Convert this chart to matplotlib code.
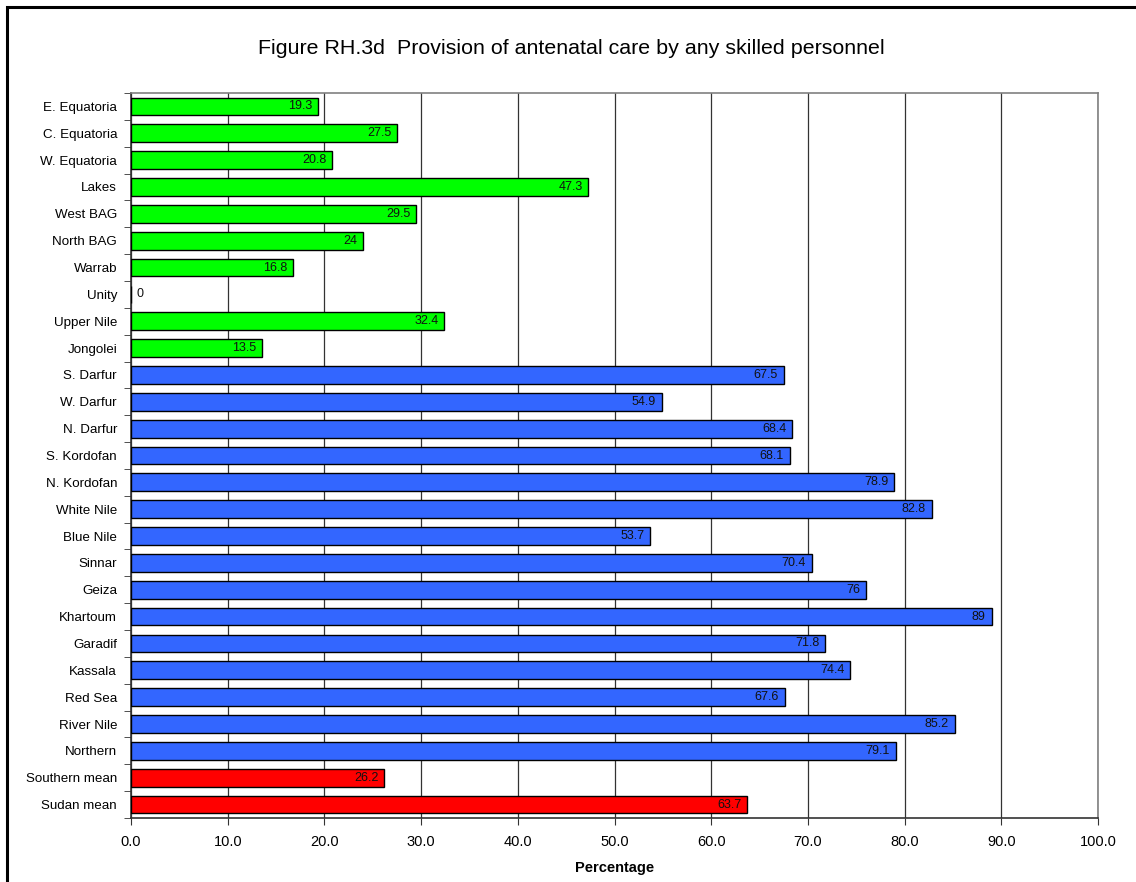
import matplotlib
matplotlib.use("Agg")
import matplotlib.pyplot as plt
from matplotlib.patches import Rectangle

categories = ["E. Equatoria", "C. Equatoria", "W. Equatoria", "Lakes", "West BAG",
              "North BAG", "Warrab", "Unity", "Upper Nile", "Jongolei",
              "S. Darfur", "W. Darfur", "N. Darfur", "S. Kordofan", "N. Kordofan",
              "White Nile", "Blue Nile", "Sinnar", "Geiza", "Khartoum", "Garadif",
              "Kassala", "Red Sea", "River Nile", "Northern", "Southern mean", "Sudan mean"]
values = [19.3, 27.5, 20.8, 47.3, 29.5, 24, 16.8, 0, 32.4, 13.5,
          67.5, 54.9, 68.4, 68.1, 78.9, 82.8, 53.7, 70.4, 76, 89, 71.8,
          74.4, 67.6, 85.2, 79.1, 26.2, 63.7]
labels = ["19.3", "27.5", "20.8", "47.3", "29.5", "24", "16.8", "0", "32.4", "13.5",
          "67.5", "54.9", "68.4", "68.1", "78.9", "82.8", "53.7", "70.4", "76", "89", "71.8",
          "74.4", "67.6", "85.2", "79.1", "26.2", "63.7"]
groups = ["south"] * 10 + ["north"] * 15 + ["mean"] * 2
group_colors = {"south": "#00FF00", "north": "#3366FF", "mean": "#FF0000"}
xticks = [0, 10, 20, 30, 40, 50, 60, 70, 80, 90, 100]

plt.rcParams['font.family'] = ['Liberation Sans', 'DejaVu Sans']

W, H = 1136, 882
fig = plt.figure(figsize=(W / 100, H / 100), dpi=100)
ax = fig.add_axes([131 / W, 1 - 818 / H, (1098 - 131) / W, (818 - 93) / H])

n = len(categories)
ypos = list(range(n))
colors = [group_colors[g] for g in groups]
ax.barh(ypos, values, height=0.66, color=colors, edgecolor="black", linewidth=1.0, zorder=3)

for y, v, lab in zip(ypos, values, labels):
    if v > 0:
        ax.text(v - 0.6, y, lab, ha="right", va="center", fontsize=9, color="#111111", zorder=4)
    else:
        ax.text(v + 0.6, y, lab, ha="left", va="center", fontsize=9, color="#111111", zorder=4)

ax.set_xlim(0, 100)
ax.set_ylim(n - 0.5, -0.5)
ax.set_xticks(xticks)
ax.set_xticklabels([f"{t:.1f}" for t in xticks], fontsize=10.5)
ax.set_yticks(ypos)
ax.set_yticklabels(categories, fontsize=9.6)
ax.tick_params(axis="y", length=0, pad=10)
ax.set_yticks([i - 0.5 for i in range(n + 1)], minor=True)
ax.tick_params(axis="y", which="minor", length=5, direction="out", color="#333333")
ax.tick_params(axis="x", length=5, direction="out", color="#333333", pad=7)

ax.grid(axis="x", color="#333333", linewidth=0.9, zorder=0)
ax.set_axisbelow(True)
for side, sp in ax.spines.items():
    sp.set_color("#808080")
    sp.set_linewidth(1.2)
ax.spines["left"].set_color("#333333")
ax.spines["bottom"].set_color("#333333")

ax.set_xlabel("Percentage", fontsize=10.5, fontweight="bold", labelpad=9)

fig.text(571 / W, 1 - 48 / H, "Figure RH.3d  Provision of antenatal care by any skilled personnel",
         ha="center", va="center", fontsize=15.4)

border = Rectangle((6.5 / W, -0.1), 1.2, 1 - 6.5 / H + 0.1, transform=fig.transFigure,
                   fill=False, edgecolor="black", linewidth=2.2, clip_on=False)
fig.patches.append(border)

fig.savefig("out.png", dpi=100)
